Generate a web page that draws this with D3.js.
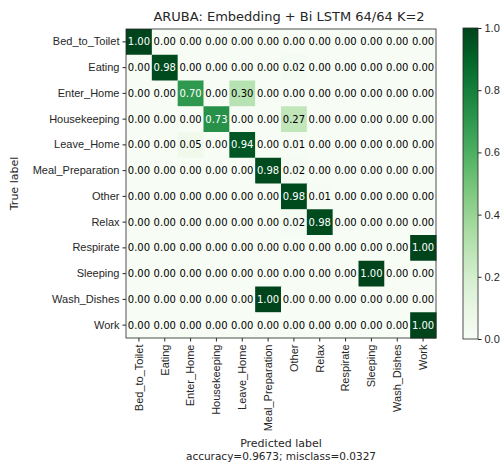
<!DOCTYPE html>
<html lang="en">
<head>
  <meta charset="UTF-8" />
  <title>ARUBA confusion matrix</title>
  <script src="https://d3js.org/d3.v7.min.js"></script>
  <style>
    html, body { margin: 0; padding: 0; background: #fff; }
    svg { display: block; font-family: 'DejaVu Sans', sans-serif; }
    .axis text { font-size: 11px; fill: #262626; }
    .axis path, .axis line { stroke: #262626; }
    .cell-text { font-size: 10px; text-anchor: middle; dominant-baseline: central; }
  </style>
</head>
<body>
  <svg id="chart" width="502" height="463"></svg>
  <script>
    const classes = ["Bed_to_Toilet", "Eating", "Enter_Home", "Housekeeping", "Leave_Home",
      "Meal_Preparation", "Other", "Relax", "Respirate", "Sleeping", "Wash_Dishes", "Work"];

    // rows = true label, columns = predicted label
    const matrix = [
      [1.00, 0, 0, 0, 0, 0, 0, 0, 0, 0, 0, 0],
      [0, 0.98, 0, 0, 0, 0, 0.02, 0, 0, 0, 0, 0],
      [0, 0, 0.70, 0, 0.30, 0, 0, 0, 0, 0, 0, 0],
      [0, 0, 0, 0.73, 0, 0, 0.27, 0, 0, 0, 0, 0],
      [0, 0, 0.05, 0, 0.94, 0, 0.01, 0, 0, 0, 0, 0],
      [0, 0, 0, 0, 0, 0.98, 0.02, 0, 0, 0, 0, 0],
      [0, 0, 0, 0, 0, 0, 0.98, 0.01, 0, 0, 0, 0],
      [0, 0, 0, 0, 0, 0, 0.02, 0.98, 0, 0, 0, 0],
      [0, 0, 0, 0, 0, 0, 0, 0, 0, 0, 0, 1.00],
      [0, 0, 0, 0, 0, 0, 0, 0, 0, 1.00, 0, 0],
      [0, 0, 0, 0, 0, 1.00, 0, 0, 0, 0, 0, 0],
      [0, 0, 0, 0, 0, 0, 0, 0, 0, 0, 0, 1.00]
    ];

    const colorbarTicks = [0, 0.2, 0.4, 0.6, 0.8, 1.0];
    const title = "ARUBA: Embedding + Bi LSTM 64/64 K=2";
    const accuracyText = "accuracy=0.9673; misclass=0.0327";

    const svg = d3.select("#chart");
    const plot = { left: 126, right: 436, top: 29, bottom: 338 };

    const x = d3.scaleBand().domain(classes).range([plot.left, plot.right]);
    const y = d3.scaleBand().domain(classes).range([plot.top, plot.bottom]);
    const color = d3.scaleSequential(d3.interpolateGreens).domain([0, 1]);

    const cells = [];
    matrix.forEach((row, i) => row.forEach((v, j) => cells.push({ t: classes[i], p: classes[j], v })));

    svg.append("g").selectAll("rect")
      .data(cells)
      .join("rect")
      .attr("x", d => x(d.p))
      .attr("y", d => y(d.t))
      .attr("width", x.bandwidth() + 0.5)
      .attr("height", y.bandwidth() + 0.5)
      .attr("fill", d => color(d.v));

    svg.append("g").selectAll("text")
      .data(cells)
      .join("text")
      .attr("class", "cell-text")
      .attr("x", d => x(d.p) + x.bandwidth() / 2)
      .attr("y", d => y(d.t) + y.bandwidth() / 2)
      .attr("fill", d => d.v > 0.5 ? "#fff" : "#000")
      .text(d => d.v.toFixed(2));

    // frame
    svg.append("rect")
      .attr("x", plot.left).attr("y", plot.top)
      .attr("width", plot.right - plot.left).attr("height", plot.bottom - plot.top)
      .attr("fill", "none").attr("stroke", "#262626").attr("stroke-width", 0.8);

    // y axis
    const yAxis = svg.append("g")
      .attr("class", "axis")
      .attr("transform", `translate(${plot.left},0)`)
      .call(d3.axisLeft(y).tickSize(3.5).tickPadding(3));
    yAxis.select(".domain").remove();

    // x axis
    const xAxis = svg.append("g")
      .attr("class", "axis")
      .attr("transform", `translate(0,${plot.bottom})`)
      .call(d3.axisBottom(x).tickSize(3.5).tickPadding(3));
    xAxis.select(".domain").remove();
    xAxis.selectAll("text")
      .attr("transform", "rotate(-90)")
      .attr("text-anchor", "end")
      .attr("x", -6.5)
      .attr("y", 0)
      .attr("dy", "0.35em");

    // title and labels
    svg.append("text")
      .attr("x", (plot.left + plot.right) / 2 + 8)
      .attr("y", 21)
      .attr("text-anchor", "middle")
      .attr("font-size", 13)
      .attr("fill", "#262626")
      .text(title);

    svg.append("text")
      .attr("transform", `translate(18,${(plot.top + plot.bottom) / 2}) rotate(-90)`)
      .attr("text-anchor", "middle")
      .attr("font-size", 11)
      .attr("fill", "#262626")
      .text("True label");

    svg.append("text")
      .attr("x", (plot.left + plot.right) / 2)
      .attr("y", 447)
      .attr("text-anchor", "middle")
      .attr("font-size", 11)
      .attr("fill", "#262626")
      .text("Predicted label");

    svg.append("text")
      .attr("x", (plot.left + plot.right) / 2)
      .attr("y", 460)
      .attr("text-anchor", "middle")
      .attr("font-size", 10.5)
      .attr("fill", "#262626")
      .text(accuracyText);

    // colorbar
    const cb = { left: 463, width: 15, top: 28, bottom: 339 };
    const defs = svg.append("defs");
    const grad = defs.append("linearGradient")
      .attr("id", "cbgrad")
      .attr("x1", 0).attr("y1", 1).attr("x2", 0).attr("y2", 0);
    grad.selectAll("stop")
      .data(d3.range(0, 1.0001, 0.05))
      .join("stop")
      .attr("offset", d => d)
      .attr("stop-color", d => color(d));

    svg.append("rect")
      .attr("x", cb.left).attr("y", cb.top)
      .attr("width", cb.width).attr("height", cb.bottom - cb.top)
      .attr("fill", "url(#cbgrad)")
      .attr("stroke", "#262626").attr("stroke-width", 0.8);

    const cbScale = d3.scaleLinear().domain([0, 1]).range([cb.bottom, cb.top]);
    const cbAxis = svg.append("g")
      .attr("class", "axis")
      .attr("transform", `translate(${cb.left + cb.width},0)`)
      .call(d3.axisRight(cbScale).tickValues(colorbarTicks).tickFormat(d3.format(".1f")).tickSize(3.5).tickPadding(3));
    cbAxis.select(".domain").remove();
  </script>
</body>
</html>
